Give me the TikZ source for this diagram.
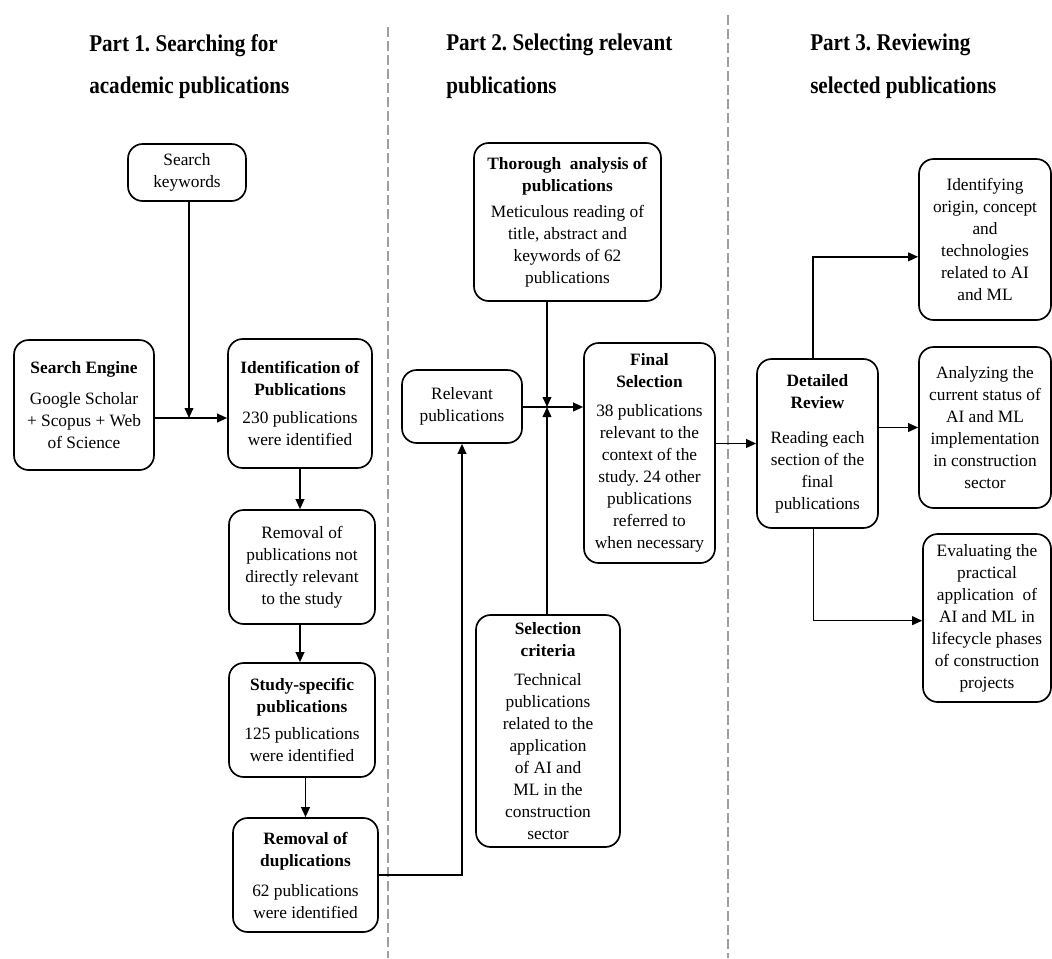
\documentclass[tikz,border=0pt]{standalone}
\usepackage{fontspec}
\setmainfont{Liberation Serif}
\newfontfamily\headfont[FakeStretch=0.88]{Liberation Serif}
\usetikzlibrary{arrows.meta}
\frenchspacing
\tikzset{
  box/.style={draw, rounded corners=11pt, line width=1.25pt, align=center, inner sep=2pt,
              font=\fontsize{13}{16.5}\selectfont},
  arr/.style={-{Triangle[length=7.5pt,width=6.5pt]}, line width=1.2pt},
  sep/.style={draw=gray!75, line width=1.5pt, dash pattern=on 7.5pt off 3pt},
  head/.style={anchor=west, inner sep=0pt, align=left,
               font=\headfont\bfseries\fontsize{18}{32}\selectfont}
}
\begin{document}
\begin{tikzpicture}[x=0.75pt,y=-0.75pt]
    \useasboundingbox (0,0) rectangle (1052,958);
    %Separadores
    \draw[sep] (388,27) -- (388,958);
    \draw[sep] (728,15) -- (728,958);
    %Titulos
    \node[head] (h1) at (89,66.5)  {Part 1. Searching for\\academic publications};
    \node[head] (h2) at (446,66.5) {Part 2. Selecting relevant\\publications};
    \node[head] (h3) at (810,66.5) {Part 3. Reviewing\\selected publications};
    %Part 1
    \node[box, minimum width=88.5pt, minimum height=42.75pt] (sk)  at (187,172.5) {Search\\keywords};
    \node[box, minimum width=105pt, minimum height=97.5pt]   (se)  at (84,405)
        {\textbf{Search Engine}\\[7pt]Google Scholar\\+ Scopus + Web\\of Science};
    \node[box, minimum width=108pt, minimum height=96.75pt]  (idp) at (300,403.5)
        {\textbf{Identification of}\\\textbf{Publications}\\[5pt]230 publications\\were identified};
    \node[box, minimum width=109.5pt, minimum height=85.5pt] (rem) at (302,567)
        {Removal of\\publications not\\directly relevant\\to the study};
    \node[box, minimum width=109.5pt, minimum height=85.5pt] (ssp) at (302,720)
        {\textbf{Study-specific}\\\textbf{publications}\\[4pt]125 publications\\were identified};
    \node[box, minimum width=108.75pt, minimum height=85.5pt] (dup) at (305.5,875)
        {\textbf{Removal of}\\\textbf{duplications}\\[6pt]62 publications\\were identified};
    %Part 2
    \node[box, minimum width=90pt, minimum height=54.75pt]   (rel)  at (462,406.5) {Relevant\\publications};
    \node[box, minimum width=140.25pt, minimum height=118.5pt] (tho) at (567.5,222)
        {\textbf{Thorough\ \ analysis of}\\\textbf{publications}\\[3pt]Meticulous reading of\\title, abstract and\\keywords of 62\\publications};
    \node[box, minimum width=98.25pt, minimum height=165pt]  (fin)  at (649.5,453)
        {\textbf{Final}\\\textbf{Selection}\\[5pt]38 publications\\relevant to the\\context of the\\study. 24 other\\publications\\referred to\\when necessary};
    \node[box, minimum width=108pt, minimum height=174pt]    (crit) at (548,731)
        {\textbf{Selection}\\\textbf{criteria}\\[5pt]Technical\\publications\\related to the\\application\\of AI and\\ML in the\\construction\\sector};
    %Part 3
    \node[box, minimum width=90.75pt, minimum height=126.75pt] (det) at (817.5,443.5)
        {\textbf{Detailed}\\\textbf{Review}\\[10pt]Reading each\\section of the\\final\\publications};
    \node[box, minimum width=99pt, minimum height=120.75pt]  (idf)  at (985,239.5)
        {Identifying\\origin, concept\\and\\technologies\\related to AI\\and ML};
    \node[box, minimum width=99pt, minimum height=120.75pt]  (ana)  at (985,427.5)
        {Analyzing the\\current status of\\AI and ML\\implementation\\in construction\\sector};
    \node[box, minimum width=96pt, minimum height=126pt]     (eva)  at (987,618)
        {Evaluating the\\practical\\application\ \ of\\AI and ML in\\lifecycle phases\\of construction\\projects};
    %Conectores
    \coordinate (j1) at (189,418);
    \coordinate (j2) at (547,407);
    \draw[arr] (sk.south -| j1) -- (j1);
    \draw[arr] (se.east |- j1) -- (idp.west |- j1);
    \draw[arr] (idp.south) -- (idp.south |- rem.north);
    \draw[arr] (rem.south -| idp.south) -- (ssp.north -| idp.south);
    \draw[arr] (ssp.south -| dup.north) -- (dup.north);
    \draw[arr] (dup.east) -| (rel.south);
    \draw[arr] (rel.east |- j2) -- (fin.west |- j2);
    \draw[arr] (tho.south -| j2) -- (j2);
    \draw[arr] (crit.north -| j2) -- (j2);
    \draw[arr] (fin.east |- det.west) -- (det.west);
    \draw[arr] ([xshift=-3.4pt]det.north) |- ([yshift=-13pt]idf.west);
    \draw[arr] (det.east |- ana.west) -- (ana.west);
    \draw[arr] ([xshift=-3pt]det.south) |- ([yshift=-2pt]eva.west);
\end{tikzpicture}
\end{document}
